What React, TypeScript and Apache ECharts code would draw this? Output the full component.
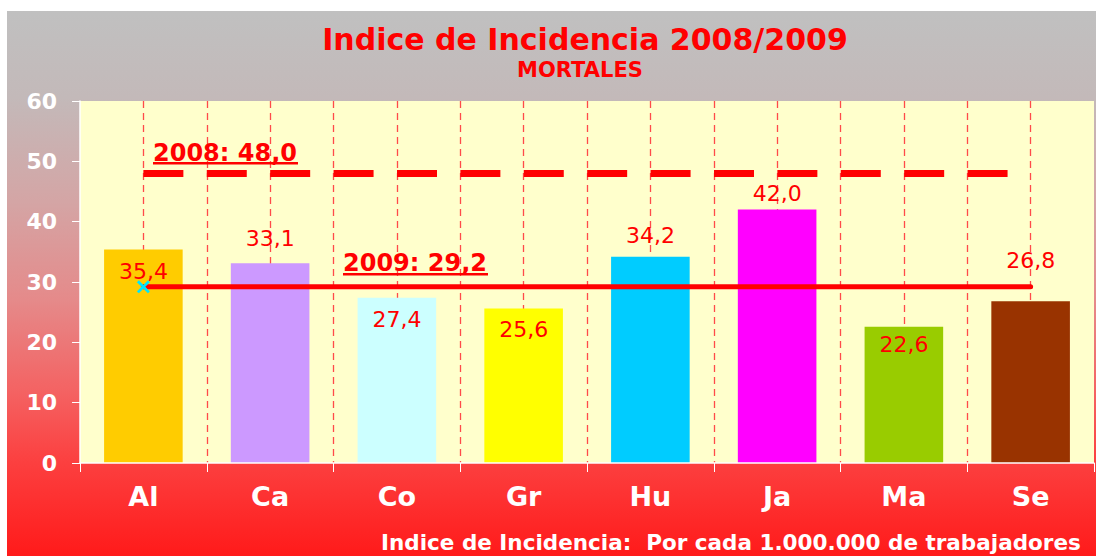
import React, { useEffect, useRef } from "react";
import * as echarts from "echarts";

const categories = ["Al", "Ca", "Co", "Gr", "Hu", "Ja", "Ma", "Se"];
const values2009 = [35.4, 33.1, 27.4, 25.6, 34.2, 42.0, 22.6, 26.8];
const barColors = ["#ffcc00", "#cc99ff", "#ccffff", "#ffff00", "#00ccff", "#ff00ff", "#99cc00", "#993300"];
const labelOffsets = [38, -9, 38, 37, -5, 0, 34, -25];
const avg2008 = 48.0;
const avg2009 = 29.2;
const yMin = 0;
const yMax = 60;
const yInterval = 10;

const fmt = (v: number) => v.toFixed(1).replace(".", ",");
const FONT = "DejaVu Sans";
const xSymbol = "path://M0,1.5L1.5,0L5,3.5L8.5,0L10,1.5L6.5,5L10,8.5L8.5,10L5,6.5L1.5,10L0,8.5L3.5,5Z";

export default function App() {
  const ref = useRef<HTMLDivElement>(null);
  useEffect(() => {
    if (!ref.current) return;
    const chart = echarts.init(ref.current, null, { renderer: "svg" });
    const option: any = {
      animation: false,
      backgroundColor: "transparent",
      grid: {
        left: 73,
        top: 90,
        right: 2,
        bottom: 93,
        show: true,
        backgroundColor: "#ffffcc",
        borderWidth: 0,
      },
      xAxis: [
        {
          type: "category",
          data: categories,
          axisLine: { show: true, lineStyle: { color: "#ffffff", width: 1.5 } },
          axisTick: { show: true, length: 9, lineStyle: { color: "#ffffff" } },
          axisLabel: {
            color: "#ffffff",
            fontWeight: "bold",
            fontSize: 27,
            fontFamily: FONT,
            margin: 20,
          },
          splitLine: { show: false },
          z: 5,
        },
        {
          type: "value",
          min: 0,
          max: categories.length * 2,
          interval: 1,
          position: "top",
          axisLine: { show: false },
          axisTick: { show: false },
          axisLabel: { show: false },
          splitLine: {
            show: true,
            showMinLine: false,
            showMaxLine: false,
            lineStyle: { color: "#ff4a4a", type: [7, 5], width: 1.3 },
          },
        },
      ],
      yAxis: {
        type: "value",
        min: yMin,
        max: yMax,
        interval: yInterval,
        axisLine: { show: true, lineStyle: { color: "#ffffff", width: 1.5 } },
        axisTick: { show: true, length: 8, lineStyle: { color: "#ffffff" } },
        axisLabel: {
          color: "#ffffff",
          fontWeight: "bold",
          fontSize: 22,
          fontFamily: FONT,
          margin: 23,
        },
        splitLine: { show: false },
        z: 5,
      },
      series: [
        {
          type: "bar",
          xAxisIndex: 0,
          barWidth: "62%",
          data: values2009.map((v, i) => ({
            value: v,
            itemStyle: { color: barColors[i] },
            label: { offset: [0, labelOffsets[i]] },
          })),
          label: {
            show: true,
            position: "top",
            color: "#ff0000",
            fontSize: 22,
            fontFamily: FONT,
            formatter: (p: any) => fmt(p.value),
          },
          z: 2,
        },
        {
          type: "line",
          xAxisIndex: 0,
          data: categories.map(() => avg2008),
          symbol: "none",
          lineStyle: { color: "#ff0000", width: 7, type: [40, 23.4], cap: "butt" },
          z: 4,
          silent: true,
        },
        {
          type: "line",
          xAxisIndex: 0,
          data: categories.map((_, i) =>
            i === 0
              ? { value: avg2009, symbol: xSymbol, symbolSize: 13, itemStyle: { color: "#00e5ff" } }
              : { value: avg2009, symbol: "none" }
          ),
          symbol: "none",
          showAllSymbol: true,
          lineStyle: { color: "#ff0000", width: 5, cap: "round" },
          z: 4,
          silent: true,
        },
      ],
      graphic: [
        {
          type: "text",
          x: 578,
          y: 28,
          style: {
            text: "Indice de Incidencia 2008/2009",
            fill: "#ff0000",
            font: `bold 30px "${FONT}"`,
            align: "center",
            verticalAlign: "middle",
          },
        },
        {
          type: "text",
          x: 573,
          y: 59,
          style: {
            text: "MORTALES",
            fill: "#ff0000",
            font: `bold 21px "${FONT}"`,
            align: "center",
            verticalAlign: "middle",
          },
        },
        {
          type: "text",
          x: 146,
          y: 142,
          z: 10,
          style: {
            text: `2008: ${fmt(avg2008)}`,
            fill: "#ff0000",
            font: `bold 24px "${FONT}"`,
            align: "left",
            verticalAlign: "middle",
          },
        },
        { type: "rect", z: 10, shape: { x: 146, y: 151, width: 145, height: 2.5 }, style: { fill: "#ff0000" } },
        {
          type: "text",
          x: 336,
          y: 252,
          z: 10,
          style: {
            text: `2009: ${fmt(avg2009)}`,
            fill: "#ff0000",
            font: `bold 24px "${FONT}"`,
            align: "left",
            verticalAlign: "middle",
          },
        },
        { type: "rect", z: 10, shape: { x: 336, y: 262, width: 145, height: 2.5 }, style: { fill: "#ff0000" } },
        {
          type: "text",
          x: 374,
          y: 531,
          style: {
            text: "Indice de Incidencia:  Por cada 1.000.000 de trabajadores",
            fill: "#ffffff",
            font: `bold 21.5px "${FONT}"`,
            align: "left",
            verticalAlign: "middle",
          },
        },
      ],
    };
    chart.setOption(option);
    return () => chart.dispose();
  }, []);
  return (
    <div
      ref={ref}
      style={{
        position: "fixed",
        left: 7,
        top: 11,
        width: 1089,
        height: 545,
        background:
          "linear-gradient(to bottom, #c0c0c0 0%, #c3b9b9 16%, #d4a5a5 35%, #e58a8a 53%, #f46262 70%, #fc3f3f 83%, #ff1a1a 100%)",
      }}
    />
  );
}
